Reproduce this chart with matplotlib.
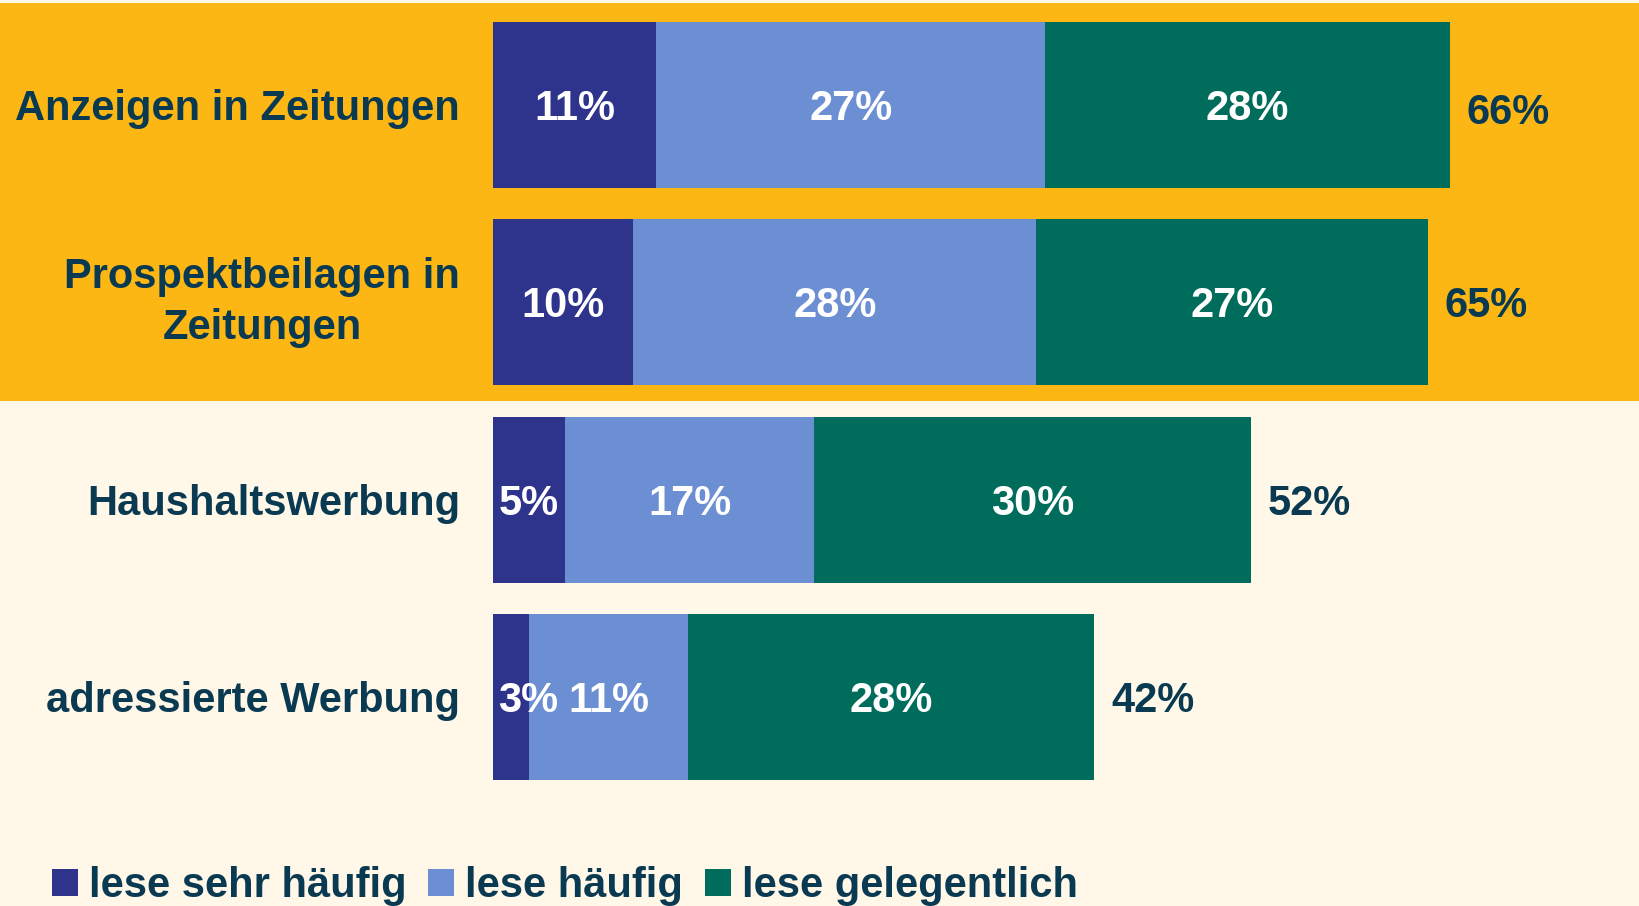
import matplotlib
matplotlib.use("Agg")
import matplotlib.pyplot as plt
from matplotlib.patches import Rectangle

categories = ["Anzeigen in Zeitungen", "Prospektbeilagen in\nZeitungen",
              "Haushaltswerbung", "adressierte Werbung"]
series_names = ["lese sehr häufig", "lese häufig", "lese gelegentlich"]
sehr_haeufig = [11.3, 9.7, 5.0, 2.5]
haeufig = [26.8, 27.8, 17.2, 11.0]
gelegentlich = [27.9, 27.0, 30.1, 28.0]
sehr_labels = ["11%", "10%", "5%", "3%"]
haeufig_labels = ["27%", "28%", "17%", "11%"]
gelegentlich_labels = ["28%", "27%", "30%", "28%"]
total_labels = ["66%", "65%", "52%", "42%"]

colors = ["#2E338C", "#6C8ED3", "#006C5B"]
TEXT = "#0A3A52"
ORANGE = "#FDB714"
CREAM = "#FFF7E8"

plt.rcParams["font.family"] = ["Liberation Sans", "DejaVu Sans"]
plt.rcParams["font.weight"] = "bold"

W, H = 1640, 906
fig = plt.figure(figsize=(W / 100, H / 100), dpi=100)
fig.patch.set_facecolor(CREAM)

# orange highlight band (full width)
fig.patches.append(Rectangle((0, (H - 401) / H), 1, (401 - 3) / H,
                             transform=fig.transFigure, facecolor=ORANGE,
                             edgecolor="none", zorder=-5))

ax_left = 492.6 / W
ax = fig.add_axes([ax_left, 0, 1 - ax_left, 1])
ax.set_facecolor("none")
px_per_pct = 14.50
ax.set_xlim(0, (W - 492.6) / px_per_pct)
spacing = 197.3
ax.set_ylim((H - 105) / spacing, -105 / spacing)

y = list(range(len(categories)))
bh = 166 / spacing
series = [sehr_haeufig, haeufig, gelegentlich]
labels = [sehr_labels, haeufig_labels, gelegentlich_labels]
left = [0.0] * len(categories)
handles = []
for s, lab, c, name in zip(series, labels, colors, series_names):
    bars = ax.barh(y, s, left=left, height=bh, color=c, label=name, linewidth=0)
    handles.append(bars)
    for i, (v, t) in enumerate(zip(s, lab)):
        cx = left[i] + v / 2
        cx = max(cx, 2.45)
        ax.annotate(t, (cx, i), xytext=(0, -3), textcoords="offset points",
                    ha="center", va="center", color="white",
                    fontsize=30, fontweight="bold")
    left = [l + v for l, v in zip(left, s)]

for i, t in enumerate(total_labels):
    dy = -6 if i == 0 else -3
    ax.annotate(t, (left[i], i), xytext=(17 * 0.72, dy), textcoords="offset points",
                ha="left", va="center", color=TEXT, fontsize=30, fontweight="bold")

ax.set_yticks(y)
ax.set_yticklabels(categories, fontsize=30, fontweight="bold", color=TEXT)
for lbl in ax.get_yticklabels():
    lbl.set_multialignment("center")
    lbl.set_linespacing(1.35)
    if "\n" in lbl.get_text():
        lbl.set_verticalalignment("center")
ax.tick_params(axis="y", length=0, pad=32.6 * 0.72)
ax.set_xticks([])
for sp in ax.spines.values():
    sp.set_visible(False)

leg = fig.legend(handles=handles, labels=series_names, loc="lower left",
                 bbox_to_anchor=(52 / W, 0 / H), ncol=3, frameon=False,
                 fontsize=30, handlelength=0.62, handleheight=0.62,
                 handletextpad=0.26, columnspacing=0.53, borderpad=0,
                 borderaxespad=0)
for t in leg.get_texts():
    t.set_color(TEXT)
    t.set_fontweight("bold")

fig.savefig("out.png", dpi=100, facecolor=CREAM)
